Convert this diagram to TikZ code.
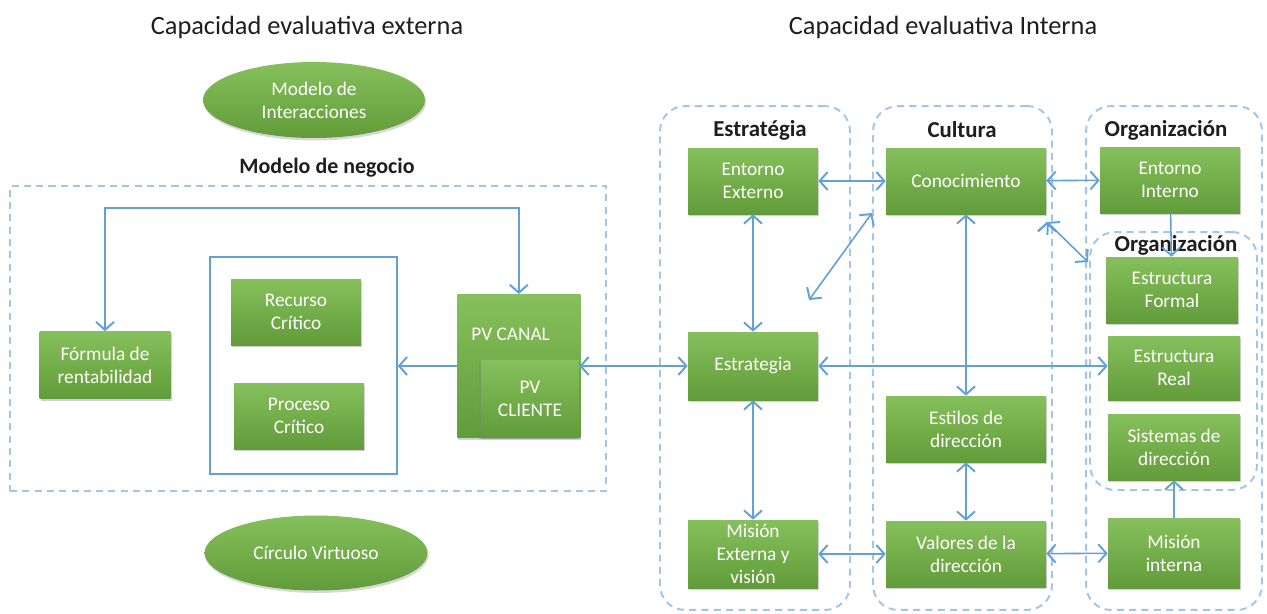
\documentclass[tikz,border=0pt]{standalone}
\usepackage{fontspec}
\setmainfont{Carlito}
\usetikzlibrary{arrows.meta, shapes.geometric, shadows, calc}
\definecolor{verde}{RGB}{116,176,72}
\definecolor{verdeclaro}{RGB}{134,192,92}
\definecolor{verdeosc}{RGB}{98,156,58}
\definecolor{azul}{RGB}{98,160,218}
\definecolor{azulclaro}{RGB}{160,198,232}
\definecolor{tinta}{RGB}{30,30,30}
\tikzset{>={Straight Barb[length=1.6mm,width=3.6mm,line width=1.1pt]}}
\tikzset{
caja/.style={rectangle, top color=verdeclaro, bottom color=verdeosc, text=white, align=center,
  font=\fontsize{11}{13}\selectfont, minimum width=2.6cm, minimum height=1.32cm, inner sep=1pt,
  drop shadow={opacity=0.35, shadow xshift=0.6pt, shadow yshift=-1.4pt}},
ancha/.style={caja, minimum width=3.2cm},
orgcaja/.style={caja, minimum width=2.64cm},
ovalo/.style={ellipse, top color=verdeclaro, bottom color=verdeosc, text=white, align=center,
  font=\fontsize{11}{13}\selectfont, minimum width=4.44cm, minimum height=1.52cm,
  drop shadow={opacity=0.3, shadow xshift=0.6pt, shadow yshift=-1.4pt}},
marco/.style={draw=azulclaro, line width=1.1pt, dash pattern=on 4pt off 3pt},
columna/.style={marco, rounded corners=0.5cm},
flecha/.style={draw=azul, line width=0.9pt},
titulo/.style={text=tinta, font=\fontsize{15}{18}\selectfont},
seccion/.style={text=tinta, font=\fontsize{13}{15}\selectfont\bfseries}
}
\begin{document}
\begin{tikzpicture}[x=0.02cm, y=-0.02cm]
\fill[white] (0,0) rectangle (1267,613);
\useasboundingbox (0,0) rectangle (1267,613);

\node[titulo] (tExt) at (307,27) {Capacidad evaluativa externa};
\node[titulo] (tInt) at (943,27) {Capacidad evaluativa Interna};

\node[ovalo] (interacciones) at (314,100) {Modelo de\\Interacciones};
\node[seccion, font=\fontsize{12.5}{15}\selectfont\bfseries] (tNegocio) at (327,168) {Modelo de negocio};
\node[marco, minimum width=11.92cm, minimum height=6.1cm] (negocio) at (308,338.5) {};
\node[draw=azul, line width=0.9pt, minimum width=3.74cm, minimum height=4.34cm] (nucleo) at (303.5,365.5) {};
\node[caja] (recurso) at (296,312) {Recurso\\Crítico};
\node[caja] (proceso) at (299,416) {Proceso\\Crítico};
\node[caja, minimum width=2.62cm, minimum height=1.34cm] (formula) at (105,365) {Fórmula de\\rentabilidad};
\node[caja, anchor=north west, minimum width=2.44cm, text width=1.9cm, align=flush left,
  inner xsep=0.28cm, inner ysep=0pt, text height=0.92cm, text depth=1.94cm] (pvcanal) at (457,294) {PV CANAL};
\node[caja, minimum width=1.96cm, minimum height=1.54cm,
  drop shadow={opacity=0.4, shadow xshift=-1.2pt, shadow yshift=-1.2pt}] (pvcliente) at (530,398.5) {PV\\CLIENTE};
\node[ovalo, minimum width=4.46cm, minimum height=1.5cm] (circulo) at (316,553) {Círculo Virtuoso};

\node[columna, minimum width=3.8cm, minimum height=10.08cm] (colEstr) at (755,358) {};
\node[columna, minimum width=3.58cm, minimum height=10.08cm] (colCult) at (962.5,358) {};
\node[columna, minimum width=3.52cm, minimum height=10.08cm] (colOrg) at (1174,358) {};
\node[columna, minimum width=3.34cm, minimum height=5.16cm] (orgint) at (1173.5,361) {};
\node[seccion] (tEstr) at (760,130) {Estratégia};
\node[seccion] (tCult) at (962,130) {Cultura};
\node[seccion] (tOrg) at (1166,130) {Organización};
\node[seccion] (tOrgint) at (1176,245) {Organización};

\node[caja] (entext) at (753,181) {Entorno\\Externo};
\node[ancha] (conoc) at (966,181) {Conocimiento};
\node[caja, minimum width=2.8cm] (entint) at (1170,180) {Entorno\\Interno};
\node[orgcaja] (formal) at (1172,290) {Estructura\\Formal};
\node[caja, minimum height=1.36cm] (estrategia) at (753,366) {Estrategia};
\node[orgcaja, minimum height=1.28cm] (real) at (1174,368) {Estructura\\Real};
\node[ancha] (estilos) at (966,429) {Estilos de\\dirección};
\node[orgcaja] (sistemas) at (1174,447) {Sistemas de\\dirección};
\node[caja, minimum height=1.36cm] (misext) at (753,554) {Misión\\Externa y\\visión};
\node[ancha] (valores) at (966,554) {Valores de la\\dirección};
\node[orgcaja, minimum height=1.4cm] (misint) at (1174,553) {Misión\\interna};

\coordinate (lazo) at (300,208);
\coordinate (diagA) at (809,300);
\coordinate (diagB) at (872,213);
\coordinate (diagC) at (1047,222);
\coordinate (diagD) at (1088,262);

\draw[flecha, <->] (formula.north) |- (lazo) -| (pvcanal.north);
\draw[flecha, ->] (pvcanal.west |- estrategia.west) -- (nucleo.east |- estrategia.west);
\draw[flecha, <->] (pvcliente.east |- estrategia.west) -- (estrategia.west);
\path[flecha, <->]
(entext) edge (conoc)
edge (estrategia)
(conoc) edge (entint)
edge (estilos)
(estrategia) edge (real.west |- estrategia.east)
edge (misext)
(estilos) edge (valores)
(valores) edge (misext)
edge (misint)
(diagA) edge (diagB)
(diagC) edge (diagD)
;
\path[flecha, ->]
(entint) edge (formal)
(misint) edge (sistemas)
;
\end{tikzpicture}
\end{document}
